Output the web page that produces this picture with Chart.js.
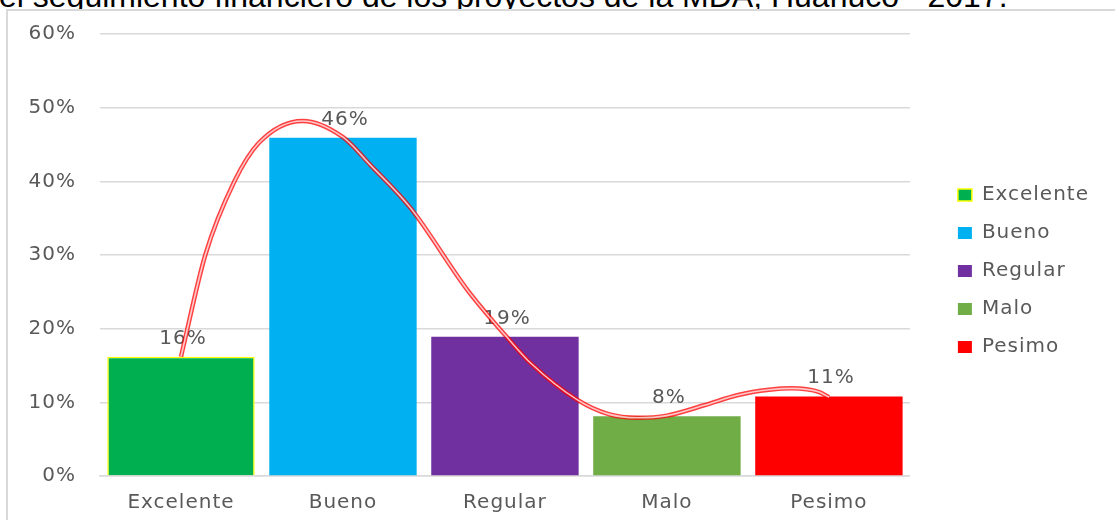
<!DOCTYPE html>
<html>
<head>
<meta charset="utf-8">
<script src="https://cdn.jsdelivr.net/npm/chart.js@4.4.1/dist/chart.umd.min.js"></script>
<style>
  html, body { margin: 0; padding: 0; width: 1115px; height: 520px; overflow: hidden; background: #fff; }
  #title { position: absolute; left: -1px; top: -20px; font: 32px "Liberation Sans", Arial, sans-serif; line-height: 32px; color: #000; white-space: nowrap; }
  #frame { position: absolute; left: 6px; top: 9px; width: 1200px; height: 600px; border: 2px solid #d9d9d9; background: #fff; }
  #wrap { position: absolute; left: 8px; top: 11px; width: 1107px; height: 509px; }
</style>
</head>
<body>
<div id="title">el seguimiento financiero de los proyectos de la MDA, Huánuco - 2017.</div>
<div id="frame"></div>
<div id="wrap"><canvas id="chart"></canvas></div>

<script>
// categories and their shares (%)
let categories = ["Excelente", "Bueno", "Regular", "Malo", "Pesimo"];
let shares = [16.2, 45.9, 18.9, 8.1, 10.8];
let barColors = ["#00B050", "#00B0F0", "#7030A0", "#70AD47", "#FF0000"];
let yTickLabels = ["0%", "10%", "20%", "30%", "40%", "50%", "60%"];

// hand-drawn trend curve (x in category index, y in %)
let curveX = [0, 0.15, 0.33, 0.48, 0.75, 1.0, 1.17, 1.42, 1.77, 2.03, 2.16, 2.45, 2.64, 2.82, 3.0, 3.23, 3.44, 3.63, 3.77, 3.94, 4.0];
let curveY = [16.2, 30, 40, 45.2, 48.2, 46, 42.2, 36.3, 25.2, 18.4, 15.3, 10.3, 8.4, 7.9, 8.2, 9.6, 11.0, 11.7, 11.9, 11.4, 10.7];

let font = "'DejaVu Sans', Verdana, sans-serif";
let fontSize = 20;
let textGray = "#595959";
let gridGray = "#d9d9d9";

let curvePoints = curveX.map((x, i) => ({ x: x, y: curveY[i] }));

// the original text is a bit wider than the font, spread it a little
let wideText = {
    id: "wideText",
    beforeUpdate(chart) { chart.ctx.letterSpacing = "1px"; },
    beforeDraw(chart) { chart.ctx.letterSpacing = "1px"; }
};

// percentage labels above bars, drawn before the curve so it passes over them
let barLabels = {
    id: "barLabels",
    afterDatasetDraw(chart, args) {
        if (args.index !== 0) return;
        let ctx = chart.ctx;
        ctx.save();
        ctx.font = fontSize + "px " + font;
        ctx.fillStyle = textGray;
        ctx.textAlign = "center";
        ctx.textBaseline = "alphabetic";
        args.meta.data.forEach((bar, i) => {
            ctx.fillText(Math.round(shares[i]) + "%", bar.x + 2, bar.y - 13);
        });
        ctx.restore();
    }
};

let ctx = document.getElementById("chart").getContext("2d");
let chart = new Chart(ctx, {
    type: "bar",
    data: {
        labels: categories,
        datasets: [
            {
                label: "Porcentaje",
                data: shares,
                backgroundColor: barColors,
                borderColor: ["#FFFF00", "rgba(0,0,0,0)", "rgba(0,0,0,0)", "rgba(0,0,0,0)", "rgba(0,0,0,0)"],
                borderWidth: [1.5, 0, 0, 0, 0],
                barPercentage: 0.91,
                categoryPercentage: 1,
                grouped: false,
                order: 2
            },
            {
                type: "line",
                data: curvePoints,
                xAxisID: "xc",
                borderColor: "rgba(255,0,0,0.75)",
                borderWidth: 4.5,
                pointRadius: 0,
                cubicInterpolationMode: "monotone",
                fill: false,
                order: 1
            },
            {
                type: "line",
                data: curvePoints,
                xAxisID: "xc",
                borderColor: "rgba(255,235,235,0.8)",
                borderWidth: 1.6,
                pointRadius: 0,
                cubicInterpolationMode: "monotone",
                fill: false,
                order: 0
            }
        ]
    },
    options: {
        responsive: true,
        maintainAspectRatio: false,
        animation: false,
        layout: { padding: { top: 11, right: 16, left: 0, bottom: 0 } },
        scales: {
            x: {
                grid: { display: false, drawTicks: false },
                border: { color: gridGray, width: 1.5 },
                ticks: { font: { family: font, size: fontSize }, color: textGray, padding: 15 },
                afterFit: s => { s.height = 44; }
            },
            xc: { type: "linear", min: -0.5, max: 4.5, offset: false, display: false },
            y: {
                min: 0,
                max: 60,
                ticks: {
                    stepSize: 10,
                    font: { family: font, size: fontSize },
                    color: textGray,
                    padding: 24,
                    callback: (v, i) => yTickLabels[i]
                },
                grid: { color: gridGray, lineWidth: 1.5, drawTicks: false },
                border: { display: false },
                afterFit: s => { s.width = 92; s.paddingTop = 23; s.paddingBottom = 0; }
            },
            yGap: {
                position: "right",
                ticks: { display: false },
                grid: { display: false, drawTicks: false },
                border: { display: false },
                afterFit: s => { s.width = 30; }
            }
        },
        plugins: {
            tooltip: { enabled: false },
            legend: {
                position: "right",
                labels: {
                    boxWidth: 14,
                    boxHeight: 12,
                    padding: 18,
                    color: textGray,
                    font: { family: font, size: fontSize },
                    generateLabels: () => categories.map((c, i) => ({
                        text: c,
                        fillStyle: barColors[i],
                        strokeStyle: i === 0 ? "#FFFF00" : barColors[i],
                        lineWidth: i === 0 ? 1.5 : 0,
                        fontColor: textGray,
                        hidden: false,
                        index: i
                    }))
                }
            }
        }
    },
    plugins: [wideText, barLabels]
});
</script>
</body>
</html>
